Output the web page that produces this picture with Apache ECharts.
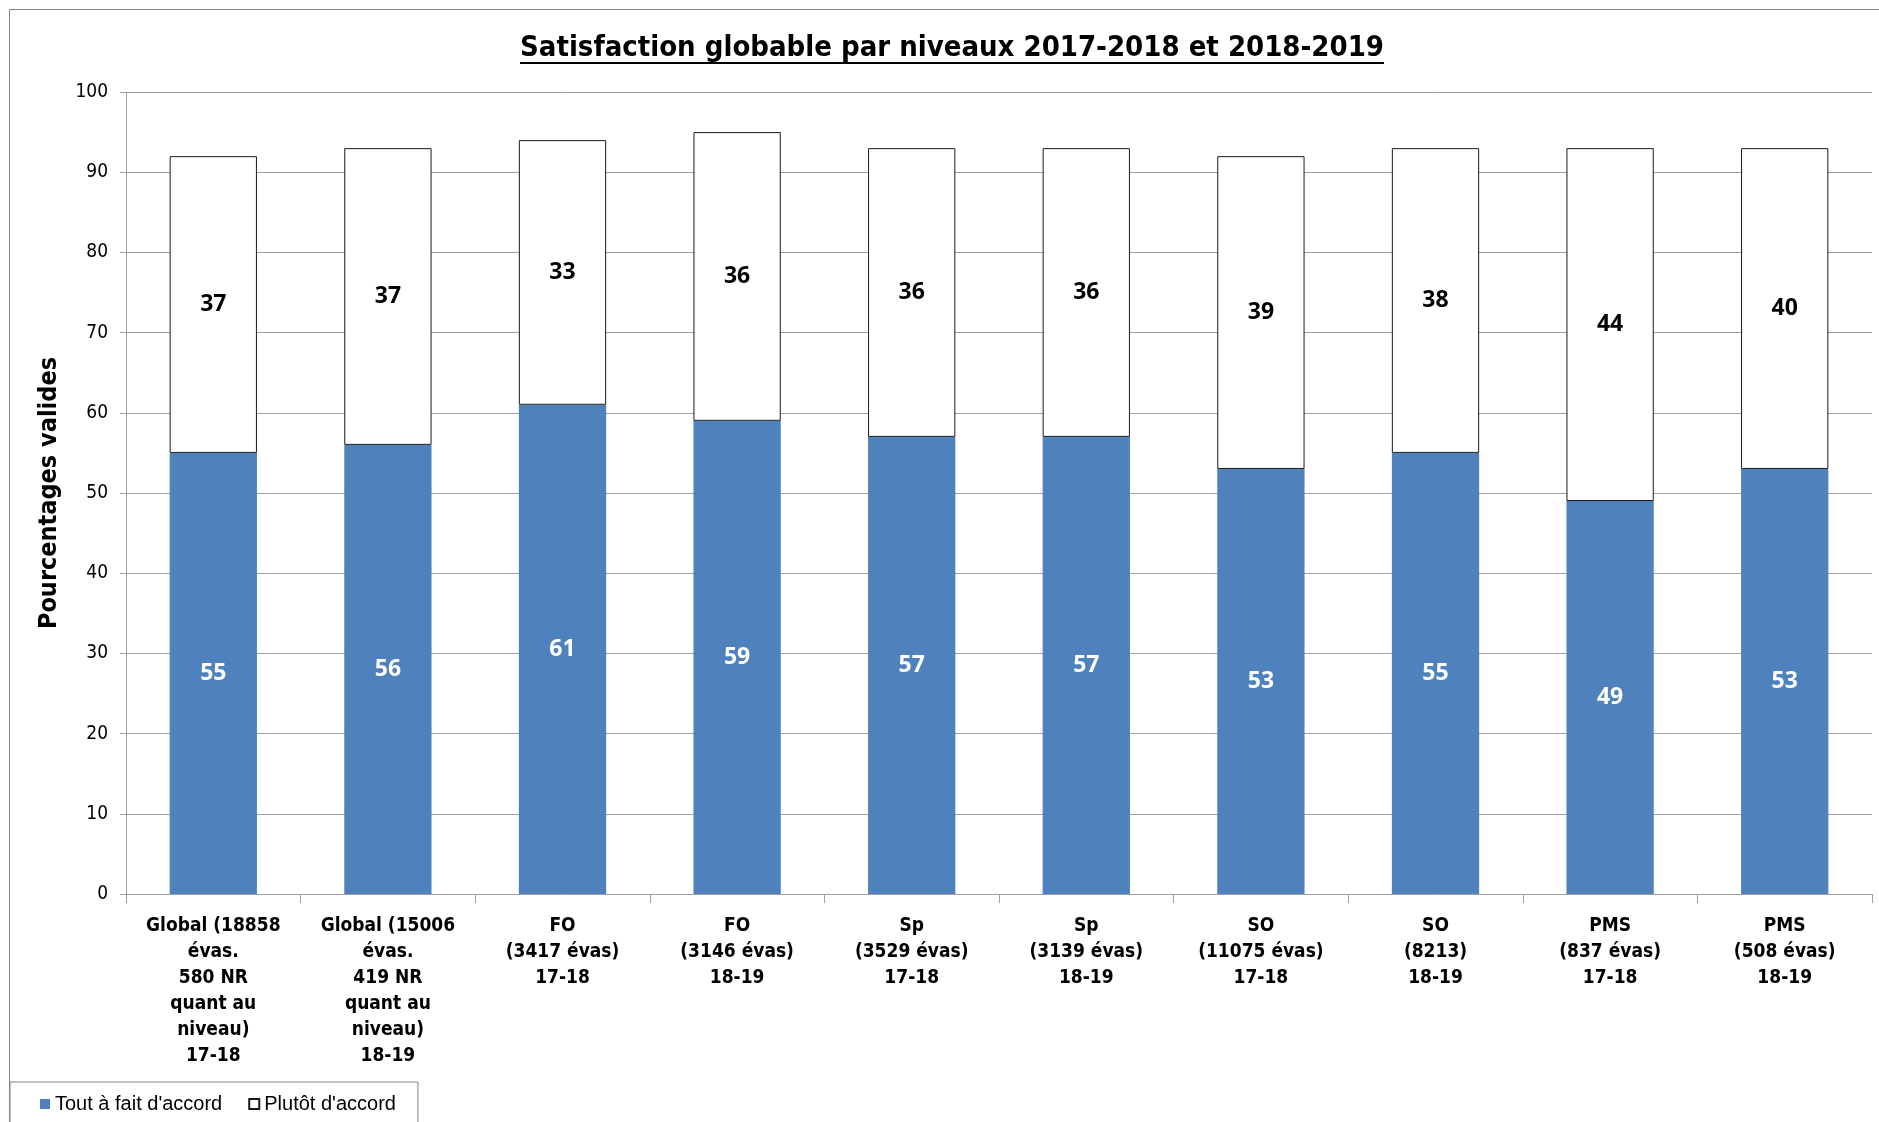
<!DOCTYPE html>
<html>
<head>
<meta charset="utf-8">
<title>Satisfaction globable par niveaux</title>
<script src="https://cdn.jsdelivr.net/npm/echarts@6/dist/echarts.min.js"></script>
<style>
  html, body { margin: 0; padding: 0; background: #ffffff; }
  #chart { width: 1879px; height: 1122px; }
</style>
</head>
<body>
<div id="chart"></div>
<script>
// Categories (levels, number of evaluations, school year)
const categories = [
  "Global (18858\névas.\n580 NR\nquant au\nniveau)\n17-18",
  "Global (15006\névas.\n419 NR\nquant au\nniveau)\n18-19",
  "FO\n(3417 évas)\n17-18",
  "FO\n(3146 évas)\n18-19",
  "Sp\n(3529 évas)\n17-18",
  "Sp\n(3139 évas)\n18-19",
  "SO\n(11075 évas)\n17-18",
  "SO\n(8213)\n18-19",
  "PMS\n(837 évas)\n17-18",
  "PMS\n(508 évas)\n18-19"
];

// Valid percentages per answer
const toutAFaitDaccord = [55, 56, 61, 59, 57, 57, 53, 55, 49, 53];
const plutotDaccord    = [37, 37, 33, 36, 36, 36, 39, 38, 44, 40];

const seriesNames = ["Tout à fait d'accord", "Plutôt d'accord"];
const titleText = "Satisfaction globable par niveaux 2017-2018 et 2018-2019";
const yAxisName = "Pourcentages valides";

const NARROW = "'Liberation Sans Narrow', 'DejaVu Sans Condensed', 'Open Sans', sans-serif";
const BLUE = '#4F81BD';
const GRID_GRAY = '#a0a0a0';

// measure the title to place its underline
const titleSize = 29;
const measureCtx = document.createElement('canvas').getContext('2d');
measureCtx.font = "bold " + titleSize + "px " + NARROW;
const titleWidth = measureCtx.measureText(titleText).width;
const titleCenterX = 952;
const titleTop = 34;
const underlineY = 63;

const chart = echarts.init(document.getElementById('chart'), null, { renderer: 'canvas' });

chart.setOption({
  backgroundColor: '#ffffff',
  animation: false,
  title: {
    text: titleText,
    left: titleCenterX - titleWidth / 2,
    top: titleTop,
    padding: 0,
    textStyle: {
      fontFamily: NARROW,
      fontWeight: 'bold',
      fontSize: titleSize,
      color: '#000000'
    }
  },
  graphic: [
    // outer chart frame
    {
      type: 'rect',
      shape: { x: 9.5, y: 9.5, width: 1900, height: 1200 },
      style: { fill: 'none', stroke: '#868686', lineWidth: 1 },
      silent: true,
      z: -10
    },
    // title underline
    {
      type: 'line',
      shape: {
        x1: titleCenterX - titleWidth / 2, y1: underlineY,
        x2: titleCenterX + titleWidth / 2, y2: underlineY
      },
      style: { stroke: '#000000', lineWidth: 2 },
      silent: true
    }
  ],
  legend: {
    left: 10,
    top: 1082,
    orient: 'horizontal',
    padding: [12, 22, 30, 30],
    borderColor: '#868686',
    borderWidth: 1,
    itemWidth: 10,
    itemHeight: 10,
    itemGap: 26,
    icon: 'rect',
    textStyle: {
      fontFamily: "'Liberation Sans', Arial, sans-serif",
      fontSize: 20,
      color: '#000000'
    },
    data: seriesNames
  },
  grid: {
    left: 126,
    right: 7,
    top: 92,
    bottom: 228,
    containLabel: false
  },
  xAxis: {
    type: 'category',
    data: categories,
    axisLine: { show: true, lineStyle: { color: GRID_GRAY, width: 1 } },
    axisTick: { show: true, length: 9, lineStyle: { color: GRID_GRAY } },
    axisLabel: {
      interval: 0,
      margin: 19,
      fontFamily: NARROW,
      fontWeight: 'bold',
      fontSize: 19,
      lineHeight: 26,
      color: '#000000'
    }
  },
  yAxis: {
    type: 'value',
    min: 0,
    max: 100,
    interval: 10,
    name: yAxisName,
    nameLocation: 'middle',
    nameGap: 64,
    nameRotate: 90,
    nameTextStyle: {
      fontFamily: NARROW,
      fontWeight: 'bold',
      fontSize: 25,
      color: '#000000'
    },
    axisLine: { show: true, lineStyle: { color: GRID_GRAY, width: 1 } },
    axisTick: { show: true, length: 6, lineStyle: { color: GRID_GRAY } },
    splitLine: { show: true, lineStyle: { color: GRID_GRAY, width: 1 } },
    axisLabel: {
      margin: 18,
      fontFamily: NARROW,
      fontSize: 19,
      color: '#000000'
    }
  },
  series: [
    {
      name: seriesNames[0],
      type: 'bar',
      stack: 'total',
      barWidth: '50%',
      data: toutAFaitDaccord,
      itemStyle: { color: BLUE },
      label: {
        show: true,
        position: 'inside',
        fontFamily: "'Open Sans', sans-serif",
        fontWeight: 'bold',
        fontSize: 23,
        color: '#ffffff'
      }
    },
    {
      name: seriesNames[1],
      type: 'bar',
      stack: 'total',
      barWidth: '50%',
      data: plutotDaccord,
      itemStyle: { color: '#ffffff', borderColor: '#1a1a1a', borderWidth: 1 },
      label: {
        show: true,
        position: 'inside',
        fontFamily: "'Open Sans', sans-serif",
        fontWeight: 'bold',
        fontSize: 23,
        color: '#000000'
      }
    }
  ]
});
</script>
</body>
</html>
